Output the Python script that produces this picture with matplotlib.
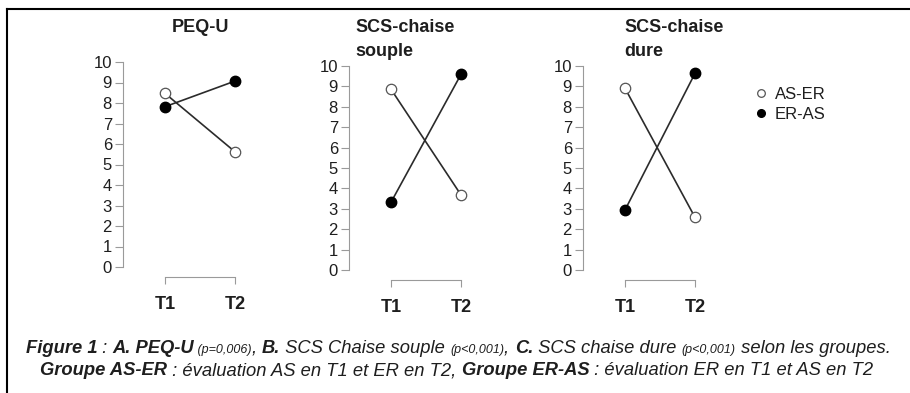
import matplotlib
matplotlib.use("Agg")
import matplotlib.pyplot as plt
from matplotlib.lines import Line2D

# ===============================
# DATA
# ===============================
times = ["T1", "T2"]
panel_titles = ["PEQ-U", "SCS-chaise\nsouple", "SCS-chaise\ndure"]
as_er = [[8.47, 5.62], [8.86, 3.68], [8.91, 2.58]]   # open circles
er_as = [[7.82, 9.07], [3.32, 9.59], [2.94, 9.64]]   # filled circles
y_ticks = list(range(0, 11))
group_labels = ["AS-ER", "ER-AS"]

# ===============================
# FIGURE
# ===============================
W, H = 910, 393
plt.rcParams['font.family'] = ['Liberation Sans', 'DejaVu Sans']
fig = plt.figure(figsize=(W / 100, H / 100), dpi=100)

line_col = "#2b2b2b"
axis_col = "#9a9a9a"
text_col = "#1e1e1e"

# pixel layout: (left, top of 10, bottom of 0)
layout = [(123, 62, 267), (349, 66, 270), (583, 66, 270)]
ax_w = 154

for i, (left, top, bot) in enumerate(layout):
    ax = fig.add_axes([left / W, (H - bot) / H, ax_w / W, (bot - top) / H])
    x = [1, 2]
    ax.plot(x, er_as[i], '-o', color=line_col, lw=1.2, ms=7.5,
            mfc='black', mec='black', clip_on=False, zorder=3)
    ax.plot(x, as_er[i], '-o', color=line_col, lw=1.2, ms=7.5,
            mfc='white', mec='#555555', mew=0.9, clip_on=False, zorder=4)
    ax.set_xlim(0.4, 2.6)
    ax.set_ylim(0, 10)
    for s in ['top', 'right']:
        ax.spines[s].set_visible(False)
    ax.spines['left'].set_bounds(0, 10)
    ax.spines['left'].set_color(axis_col)
    ax.spines['bottom'].set_bounds(1, 2)
    ax.spines['bottom'].set_color(axis_col)
    ax.spines['bottom'].set_position(('outward', 7))
    ax.set_yticks(y_ticks)
    ax.set_xticks(x)
    ax.set_xticklabels(times, fontsize=13, fontweight='bold')
    ax.tick_params(axis='y', length=6, color=axis_col, labelsize=12,
                   labelcolor=text_col, pad=2)
    ax.tick_params(axis='x', length=5, color=axis_col, labelcolor=text_col, pad=9)
    ax.patch.set_alpha(0)

# titles
fig.text(200 / W, 1 - 27 / H, panel_titles[0], ha='center', va='center',
         fontsize=13, fontweight='bold', color=text_col)
fig.text(355 / W, 1 - 19 / H, panel_titles[1], ha='left', va='top',
         fontsize=13, fontweight='bold', color=text_col, linespacing=1.5)
fig.text(624 / W, 1 - 19 / H, panel_titles[2], ha='left', va='top',
         fontsize=13, fontweight='bold', color=text_col, linespacing=1.5)

# legend
handles = [Line2D([], [], ls='none', marker='o', ms=5.5, mfc='white', mec='#555555', mew=0.9),
           Line2D([], [], ls='none', marker='o', ms=5.5, mfc='black', mec='black')]
fig.legend(handles, group_labels, loc='upper left', bbox_to_anchor=(753 / W, 1 - 87 / H),
           frameon=False, fontsize=12, handletextpad=0.4, labelspacing=0.3,
           handlelength=0.9, borderpad=0, borderaxespad=0, labelcolor=text_col)

# frame lines (top and left only)
fig.add_artist(Line2D([7 / W, 1], [1 - 9 / H, 1 - 9 / H], color='black', lw=1.5))
fig.add_artist(Line2D([7 / W, 7 / W], [0, 1 - 9 / H], color='black', lw=1.5))

# ===============================
# CAPTION (mixed styles)
# ===============================
big, small = 13.2, 9
line1 = [("Figure 1", 'bold', big), (" : ", 'normal', big), ("A. PEQ-U", 'bold', big),
         (" (p=0,006)", 'normal', small), (", ", 'normal', big), ("B.", 'bold', big),
         (" SCS Chaise souple ", 'normal', big), ("(p<0,001)", 'normal', small),
         (", ", 'normal', big), ("C.", 'bold', big), (" SCS chaise dure ", 'normal', big),
         ("(p<0,001)", 'normal', small), (" selon les groupes.", 'normal', big)]
line2 = [("Groupe AS-ER", 'bold', big), (" : évaluation AS en T1 et ER en T2, ", 'normal', big),
         ("Groupe ER-AS", 'bold', big), (" : évaluation ER en T1 et AS en T2", 'normal', big)]

renderer = fig.canvas.get_renderer()


def draw_line(pieces, y_px, center_px):
    texts = []
    x = 0.0
    for s, w, size in pieces:
        t = fig.text(0, 1 - y_px / H, s, fontsize=size, fontweight=w, style='italic',
                     color=text_col, va='baseline', ha='left')
        t.set_x(x / W)
        bb = t.get_window_extent(renderer)
        x += bb.width
        texts.append(t)
    offset = center_px - x / 2
    for t in texts:
        t.set_x(t.get_position()[0] + offset / W)


draw_line(line1, 353, 458)
draw_line(line2, 375, 457)

fig.savefig("out.png", dpi=100)
